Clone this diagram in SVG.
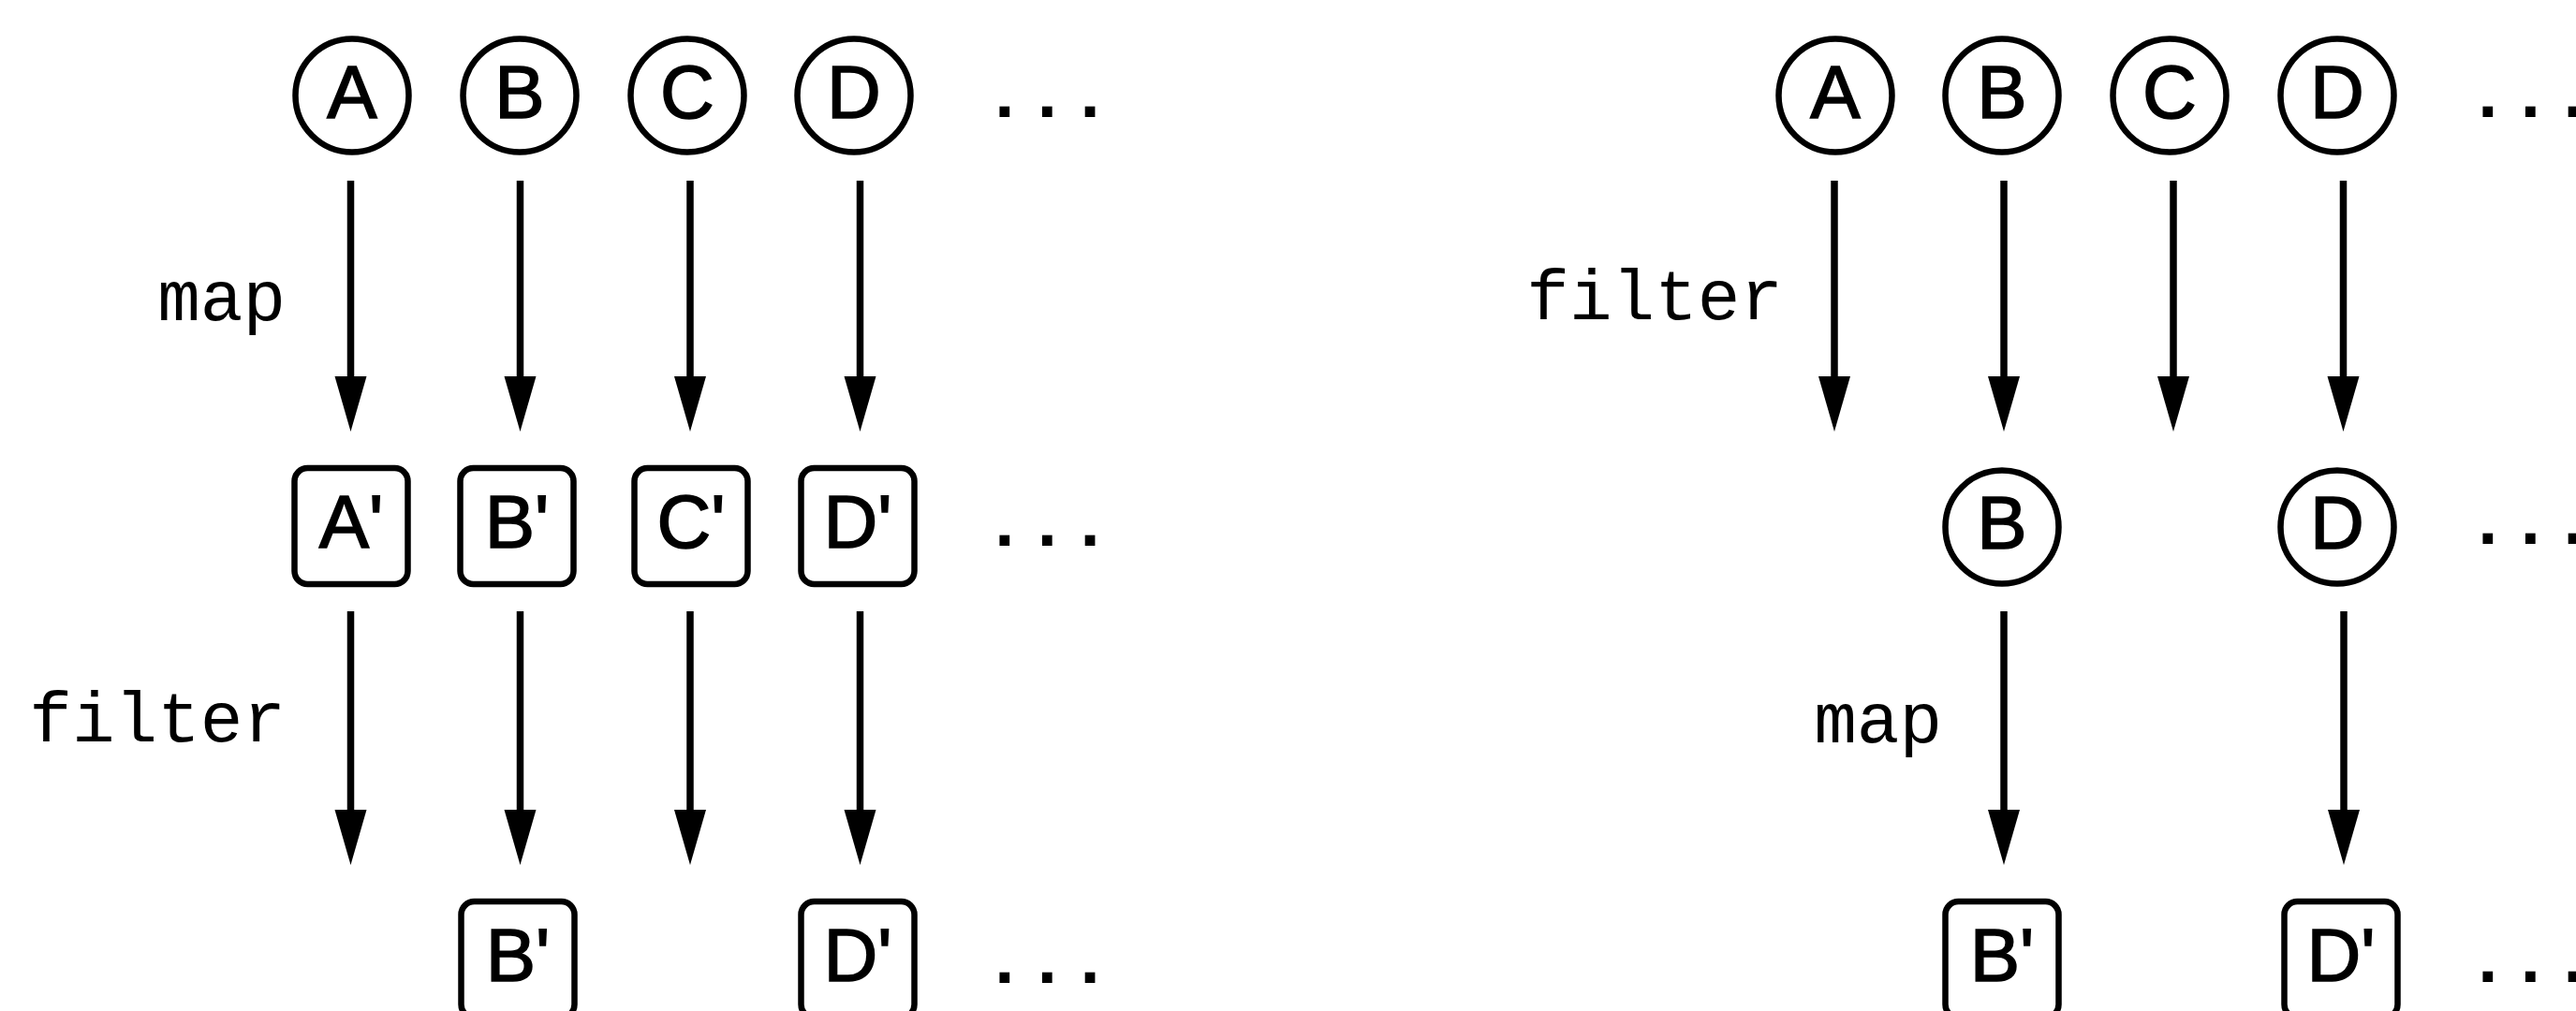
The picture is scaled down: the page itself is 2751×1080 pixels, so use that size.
<svg xmlns="http://www.w3.org/2000/svg" width="2751" height="1080" viewBox="0 0 2751 1080">
<style>
.node circle, .node rect { fill: #fff; stroke: #000; stroke-width: 6.5; }
.lt { font-family: "Liberation Sans", Arial, sans-serif; font-size: 80px; text-anchor: middle; fill: #000; stroke: #000; stroke-width: 1.6; }
.lbl { font-family: "Liberation Mono", "Courier New", monospace; font-size: 76px; text-anchor: end; fill: #000; }
.dots { font-family: "Liberation Mono", "Courier New", monospace; font-size: 76px; font-weight: bold; fill: #000; }
.conn line { stroke: #000; stroke-width: 7.5; marker-end: url(#ah); }
</style>
<defs>
<marker id="ah" markerUnits="userSpaceOnUse" markerWidth="60" markerHeight="36" viewBox="0 0 60 36" refX="1" refY="18" orient="auto">
<path d="M0,1 L59,18 L0,35 z" fill="#000"/>
</marker>
</defs>
<rect width="2751" height="1080" fill="#fff"/>

<!-- LEFT: map then filter -->
<g id="L-A" class="node"><circle cx="376" cy="102" r="60.5"/><text class="lt" x="376" y="126">A</text></g>
<g id="L-B" class="node"><circle cx="555" cy="102" r="60.5"/><text class="lt" x="555" y="126">B</text></g>
<g id="L-C" class="node"><circle cx="734" cy="102" r="60.5"/><text class="lt" x="734" y="126">C</text></g>
<g id="L-D" class="node"><circle cx="912" cy="102" r="60.5"/><text class="lt" x="912" y="126">D</text></g>

<g id="L-A1" class="node"><rect x="314.5" y="500" width="121" height="124" rx="14"/><text class="lt" x="375" y="585">A'</text></g>
<g id="L-B1" class="node"><rect x="491.5" y="500" width="121" height="124" rx="14"/><text class="lt" x="552" y="585">B'</text></g>
<g id="L-C1" class="node"><rect x="677.5" y="500" width="121" height="124" rx="14"/><text class="lt" x="738" y="585">C'</text></g>
<g id="L-D1" class="node"><rect x="855.5" y="500" width="121" height="124" rx="14"/><text class="lt" x="916" y="585">D'</text></g>

<g id="L-B2" class="node"><rect x="492.5" y="963" width="121" height="124" rx="14"/><text class="lt" x="553" y="1048">B'</text></g>
<g id="L-D2" class="node"><rect x="855.5" y="963" width="121" height="124" rx="14"/><text class="lt" x="916" y="1048">D'</text></g>

<text class="lbl" x="305" y="342">map</text>
<text class="lbl" x="305" y="792">filter</text>
<text class="dots" x="1050" y="124.5">...</text>
<text class="dots" x="1050" y="582.5">...</text>
<text class="dots" x="1050" y="1049.5">...</text>

<!-- RIGHT: filter then map -->
<g id="R-A" class="node"><circle cx="1960" cy="102" r="60.5"/><text class="lt" x="1960" y="126">A</text></g>
<g id="R-B" class="node"><circle cx="2138" cy="102" r="60.5"/><text class="lt" x="2138" y="126">B</text></g>
<g id="R-C" class="node"><circle cx="2317" cy="102" r="60.5"/><text class="lt" x="2317" y="126">C</text></g>
<g id="R-D" class="node"><circle cx="2496" cy="102" r="60.5"/><text class="lt" x="2496" y="126">D</text></g>

<g id="R-B1" class="node"><circle cx="2138" cy="563" r="60.5"/><text class="lt" x="2138" y="586">B</text></g>
<g id="R-D1" class="node"><circle cx="2496" cy="563" r="60.5"/><text class="lt" x="2496" y="586">D</text></g>

<g id="R-B2" class="node"><rect x="2077.5" y="963" width="121" height="124" rx="14"/><text class="lt" x="2138" y="1048">B'</text></g>
<g id="R-D2" class="node"><rect x="2439.5" y="963" width="121" height="124" rx="14"/><text class="lt" x="2500" y="1048">D'</text></g>

<text class="lbl" x="1904" y="341">filter</text>
<text class="lbl" x="2074" y="793">map</text>
<text class="dots" x="2634" y="124.5">...</text>
<text class="dots" x="2634" y="580.5">...</text>
<text class="dots" x="2634" y="1048.5">...</text>

<g id="connectors" class="conn">
<line x1="374.5" y1="193" x2="374.5" y2="403"/>
<line x1="555.5" y1="193" x2="555.5" y2="403"/>
<line x1="737" y1="193" x2="737" y2="403"/>
<line x1="918.5" y1="193" x2="918.5" y2="403"/>
<line x1="374.5" y1="653" x2="374.5" y2="866"/>
<line x1="555.5" y1="653" x2="555.5" y2="866"/>
<line x1="737" y1="653" x2="737" y2="866"/>
<line x1="918.5" y1="653" x2="918.5" y2="866"/>
<line x1="1959" y1="193" x2="1959" y2="403"/>
<line x1="2140" y1="193" x2="2140" y2="403"/>
<line x1="2321" y1="193" x2="2321" y2="403"/>
<line x1="2502.5" y1="193" x2="2502.5" y2="403"/>
<line x1="2140" y1="653" x2="2140" y2="866"/>
<line x1="2503" y1="653" x2="2503" y2="866"/>
</g>
</svg>
